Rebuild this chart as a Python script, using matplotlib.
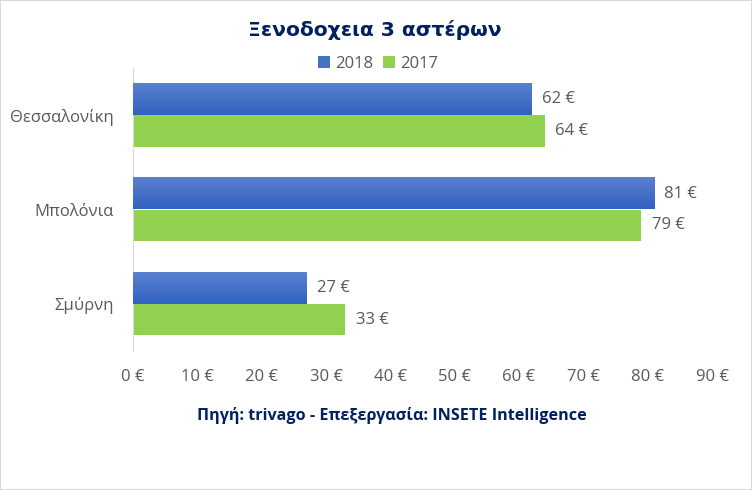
import numpy as np
import matplotlib
matplotlib.use('Agg')
import matplotlib.pyplot as plt
from matplotlib.patches import Rectangle
from matplotlib.colors import LinearSegmentedColormap

# δεδομένα
cities = ['Θεσσαλονίκη', 'Μπολόνια', 'Σμύρνη']
vals_2018 = [62, 81, 27]
vals_2017 = [64, 79, 33]
xticks = [0, 10, 20, 30, 40, 50, 60, 70, 80, 90]
xtick_labels = [f'{v} €' for v in xticks]

label_font = ['Open Sans', 'DejaVu Sans']
gray = '#595959'
navy = '#002060'
blue = '#4472C4'
green = '#92D050'

fig = plt.figure(figsize=(7.52, 4.9), dpi=100)
ax = fig.add_axes([133 / 752, 1 - 351 / 490, (712 - 133) / 752, 283 / 490])

y = np.arange(len(cities))
h = 0.335
bars18 = ax.barh(y - h / 2, vals_2018, height=h, color=blue, label='2018', zorder=2)
bars17 = ax.barh(y + h / 2, vals_2017, height=h, color=green, label='2017', zorder=2)

# κλίση χρώματος στις μπλε μπάρες
grad = np.linspace(0, 1, 100).reshape(-1, 1)
cmap = LinearSegmentedColormap.from_list('bl', ['#5B80D0', '#3062C0'])
for b in bars18:
    x0, y0 = b.get_x(), b.get_y()
    w, hh = b.get_width(), b.get_height()
    ax.imshow(grad, extent=[x0, x0 + w, y0 + hh, y0], cmap=cmap, aspect='auto', zorder=3)

for bars in (bars18, bars17):
    for b in bars:
        ax.text(b.get_width() + 1.6, b.get_y() + b.get_height() / 2, f'{int(b.get_width())} €',
                va='center', ha='left', fontsize=12, color=gray, family=label_font)

ax.set_xlim(0, 90)
ax.set_ylim(2.5, -0.5)
ax.set_xticks(xticks)
ax.set_xticklabels(xtick_labels, fontsize=12, color=gray, family=label_font)
ax.set_yticks(y)
ax.set_yticklabels(cities, fontsize=12, color=gray, family=label_font)
ax.tick_params(axis='both', length=0)
ax.tick_params(axis='x', pad=13)
ax.tick_params(axis='y', pad=14)
for s in ['top', 'right', 'bottom']:
    ax.spines[s].set_visible(False)
ax.spines['left'].set_color('#D9D9D9')

fig.text(375 / 752, 1 - 30 / 490, 'Ξενοδοχεια 3 αστέρων', ha='center', va='center',
         fontsize=14.6, fontweight='bold', color=navy, family='DejaVu Sans')

leg = fig.legend(handles=[bars18, bars17], labels=['2018', '2017'], loc='center',
                 bbox_to_anchor=(378 / 752, 1 - 64 / 490), ncol=2, frameon=False,
                 prop={'family': label_font, 'size': 12}, handlelength=0.7, handleheight=0.7,
                 handletextpad=0.3, columnspacing=0.6)
for t in leg.get_texts():
    t.set_color(gray)

fig.text(392 / 752, 1 - 416 / 490, 'Πηγή: trivago - Επεξεργασία: INSETE Intelligence', ha='center',
         va='center', fontsize=11.6, fontweight='bold', color=navy, family=label_font)

fig.patches.append(Rectangle((0, 0), 1, 1, transform=fig.transFigure, fill=False,
                             edgecolor='#D9D9D9', linewidth=1.5))

fig.savefig('out.png', dpi=100)
